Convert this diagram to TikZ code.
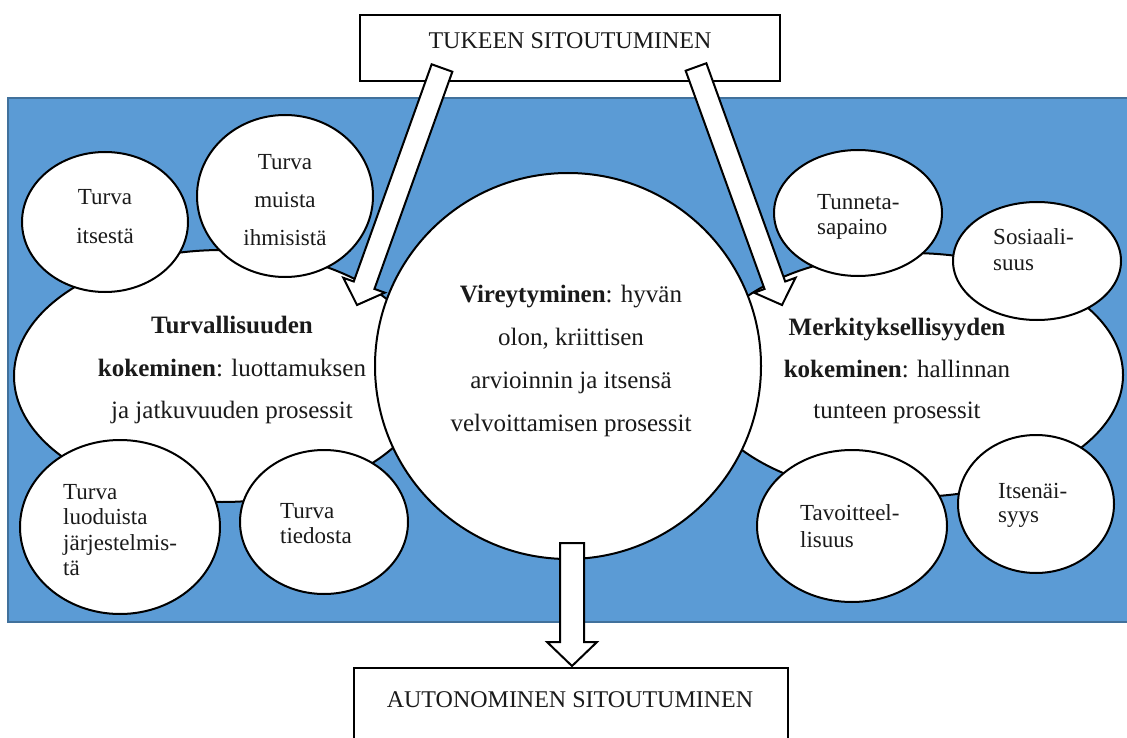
\documentclass[tikz,border=0pt]{standalone}
\usepackage{fontspec}
\setmainfont{Liberation Serif}
\usetikzlibrary{shapes.geometric,calc}
\definecolor{bluefill}{HTML}{5B9BD5}
\definecolor{blueedge}{HTML}{41719C}
\definecolor{txtcol}{HTML}{1A1A1A}
\tikzset{
  bubble/.style={ellipse, draw=black, line width=2pt, fill=white, inner sep=0pt},
  boxsty/.style={rectangle, draw=black, line width=2pt, fill=white, inner sep=0pt},
  blockarr/.style={draw=black, line width=2pt, fill=white, line join=miter},
  txt/.style={inner sep=0pt, text=txtcol},
  bigtxt/.style={txt, align=center, font=\fontsize{25}{#1}\selectfont},
  ctxt/.style={txt, align=center, font=\fontsize{23}{#1}\selectfont},
  ltxt/.style={txt, align=left, anchor=west, font=\fontsize{23}{#1}\selectfont},
  boxtxt/.style={txt, font=\fontsize{24}{28}\selectfont},
}
\newcommand{\mkblockarrow}[5]{%
  \coordinate (hb) at ($(#2)!#5!(#1)$);
  \draw[blockarr] ($(#1)!#3!90:(#2)$) -- ($(hb)!#3!90:(#2)$) -- ($(hb)!#4!90:(#2)$) -- (#2)
    -- ($(hb)!#4!-90:(#2)$) -- ($(hb)!#3!-90:(#2)$) -- ($(#1)!#3!-90:(#2)$) -- cycle;
}
\begin{document}
\begin{tikzpicture}[x=1pt,y=-1pt]
\useasboundingbox (0,0) rectangle (1127,738);
\fill[white] (0,0) rectangle (1127,738);
% blue background
\draw[fill=bluefill, draw=blueedge, line width=1.5pt] (8,98) rectangle (1140,622);
% top box
\node[boxsty, minimum width=420pt, minimum height=66pt] (top) at (570,48) {};
\node[boxtxt] (toptxt) at (570,41) {TUKEEN SITOUTUMINEN};
% bottom box
\node[boxsty, minimum width=434pt, minimum height=100pt] (bot) at (571,718) {};
\node[boxtxt] (bottxt) at (570,700) {AUTONOMINEN SITOUTUMINEN};
% big ellipses
\node[bubble, minimum width=416pt, minimum height=252pt] (left) at (222,376) {};
\node[bubble, minimum width=426pt, minimum height=244pt] (right) at (910,375) {};
% small left circles
\node[bubble, minimum width=166pt, minimum height=140pt] (c1) at (105,222) {};
\node[bubble, minimum width=176pt, minimum height=162pt] (c2) at (285,196) {};
\node[bubble, minimum width=200pt, minimum height=174pt] (c3) at (120,527) {};
\node[bubble, minimum width=168pt, minimum height=144pt] (c4) at (324,522) {};
% small right circles
\node[bubble, minimum width=168pt, minimum height=126pt] (d1) at (858,213) {};
\node[bubble, minimum width=168pt, minimum height=118pt] (d2) at (1037,261) {};
\node[bubble, minimum width=190pt, minimum height=152pt] (d3) at (852,526) {};
\node[bubble, minimum width=156pt, minimum height=138pt] (d4) at (1036,504) {};
% centre circle
\node[bubble, circle, minimum size=386pt] (mid) at (568,366) {};
% texts
\node[bigtxt=42.5pt] (lefttxt) at (232,370) {\textbf{Turvallisuuden}\\\textbf{kokeminen}: luottamuksen\\ja jatkuvuuden prosessit};
\node[bigtxt=41.5pt] (righttxt) at (897,371) {\textbf{Merkityksellisyyden}\\\textbf{kokeminen}: hallinnan\\tunteen prosessit};
\node[bigtxt=42.7pt] (midtxt) at (571,361) {\textbf{Vireytyminen}: hyvän\\olon, kriittisen\\arvioinnin ja itsensä\\velvoittamisen prosessit};
\node[ctxt=39pt] (c1t) at (105,217) {Turva\\itsestä};
\node[ctxt=38pt] (c2t) at (285,200) {Turva\\muista\\ihmisistä};
\node[ltxt=25.3pt] (c3t) at (63,530) {Turva\\luoduista\\järjestelmis-\\tä};
\node[ltxt=25pt] (c4t) at (280,524) {Turva\\tiedosta};
\node[ltxt=25pt] (d1t) at (817,217) {Tunneta-\\sapaino};
\node[ltxt=26pt] (d2t) at (993,250) {Sosiaali-\\suus};
\node[ltxt=27pt] (d3t) at (800,526) {Tavoitteel-\\lisuus};
\node[ltxt=24pt] (d4t) at (998,505) {Itsenäi-\\syys};
% arrows
\coordinate (a1s) at (442,68);
\coordinate (a1e) at (357,305);
\coordinate (a2s) at (696,67);
\coordinate (a2e) at (782,305);
\coordinate (a3s) at (572,543);
\coordinate (a3e) at (572,666);
\mkblockarrow{a1s}{a1e}{11pt}{22pt}{21pt}
\mkblockarrow{a2s}{a2e}{11pt}{22pt}{21pt}
\mkblockarrow{a3s}{a3e}{12pt}{25pt}{24pt}
\end{tikzpicture}
\end{document}
